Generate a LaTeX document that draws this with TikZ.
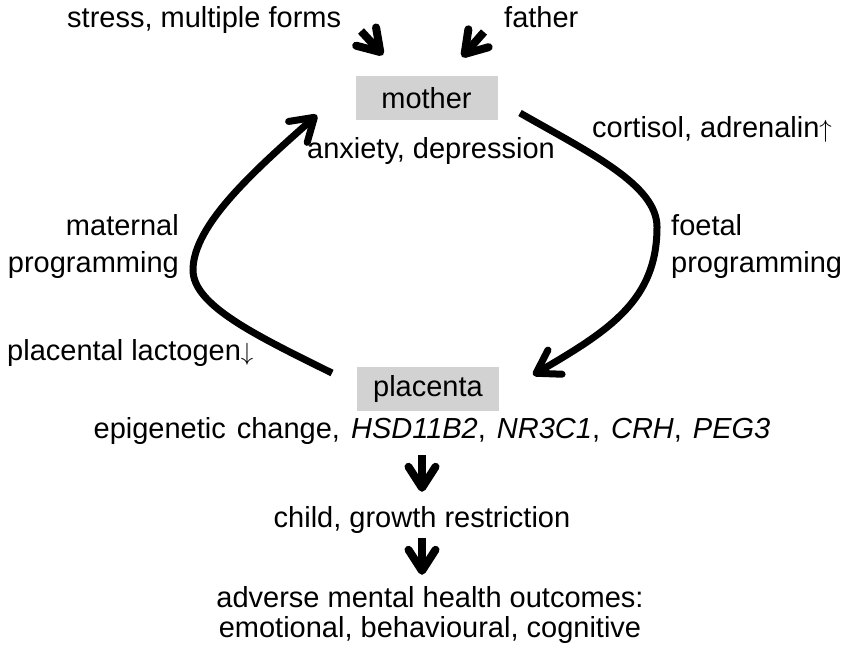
\documentclass[tikz,border=0pt]{standalone}
\usepackage{fontspec}
\setmainfont{Liberation Sans}
\usetikzlibrary{arrows.meta}

\tikzset{
  box/.style={fill=gray!35, minimum width=142pt, minimum height=44pt, inner sep=0pt},
  lbl/.style={inner sep=0pt},
  curvearrow/.style={line width=7pt, -{Straight Barb[length=22pt,width=28pt,round]}},
  shortarrow/.style={line width=8pt, -{Straight Barb[length=21pt,width=27pt,round]}}
}

\begin{document}
\begin{tikzpicture}[x=1pt,y=-1pt,font=\fontsize{29}{37}\selectfont]
    \useasboundingbox (0,0) rectangle (845,649);

    % Boxes
    \node[box] (mother) at (426.5,98) {mother};
    \node[box] (placenta) at (428,389) {placenta};

    % Labels round the cycle
    \node[lbl, anchor=base west] (stress) at (67,27) {stress, multiple forms};
    \node[lbl, anchor=base west] (father) at (504,27) {father};
    \node[lbl, anchor=base] (anxiety) at (431,158) {anxiety, depression};
    \node[lbl, anchor=base west] (cortisol) at (592,137) {cortisol, adrenalin$\uparrow$};
    \node[lbl, anchor=base west] (foetal) at (671,235) {foetal};
    \node[lbl, anchor=base west] (foetalprog) at (671,272) {programming};
    \node[lbl, anchor=base east] (maternal) at (179,235) {maternal};
    \node[lbl, anchor=base east] (maternalprog) at (179,272) {programming};
    \node[lbl, anchor=base west] (lactogen) at (7,360) {placental lactogen$\downarrow$};

    % Labels below placenta
    \node[lbl, anchor=base] (epigen) at (432,438) {\spaceskip=11pt\relax epigenetic change, \textit{HSD11B2}, \textit{NR3C1}, \textit{CRH}, \textit{PEG3}};
    \node[lbl, anchor=base] (child) at (422,527) {child, growth restriction};
    \node[lbl, anchor=base] (adverse) at (430,607) {adverse mental health outcomes:};
    \node[lbl, anchor=base] (emotion) at (430,637) {emotional, behavioural, cognitive};

    % Inputs to mother
    \coordinate (s-tail) at (361,31);
    \coordinate (s-tip) at (383,55);
    \coordinate (f-tail) at (484,32);
    \coordinate (f-tip) at (462,57);
    \draw[shortarrow] (s-tail) -- (s-tip);
    \draw[shortarrow] (f-tail) -- (f-tip);

    % The cycle
    \coordinate (m-out) at (520,113);
    \coordinate (p-in) at (533,375);
    \coordinate (p-out) at (332,373);
    \coordinate (m-in) at (317,115);
    \draw[curvearrow] (m-out) .. controls (590,153) and (657,185) .. (657,227)
        .. controls (657,300) and (610,330) .. (p-in);
    \draw[curvearrow] (p-out) .. controls (255,335) and (193,305) .. (193,270)
        .. controls (193,225) and (255,170) .. (m-in);

    % Down the chain
    \draw[shortarrow, shorten <=11pt, shorten >=14pt] (epigen.south -| child.south) -- (child.north);
    \draw[shortarrow, shorten <=5pt, shorten >=11pt] (child.south) -- (child.south |- adverse.north);
\end{tikzpicture}
\end{document}
